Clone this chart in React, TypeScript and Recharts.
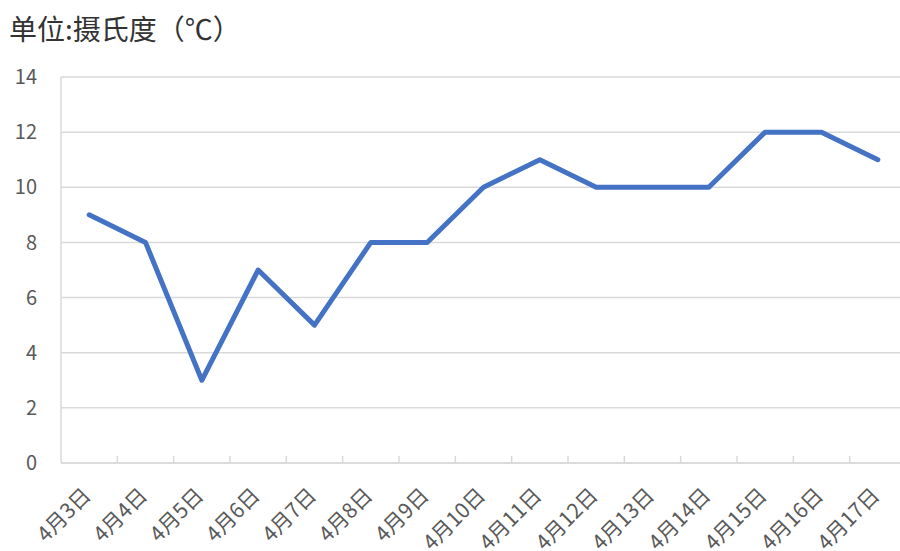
import React from "react"
import {
  LineChart,
  Line,
  XAxis,
  YAxis,
  CartesianGrid,
} from "recharts"

const dates = [
  "4月3日", "4月4日", "4月5日", "4月6日", "4月7日", "4月8日", "4月9日", "4月10日",
  "4月11日", "4月12日", "4月13日", "4月14日", "4月15日", "4月16日", "4月17日",
]
const temps = [9, 8, 3, 7, 5, 8, 8, 10, 11, 10, 10, 10, 12, 12, 11]
const yTicks = [0, 2, 4, 6, 8, 10, 12, 14]

const data = dates.map((d, i) => ({ date: d, temp: temps[i] }))

const grey = "#d9d9d9"
const labelColor = "#595959"
const fontFamily = "'Noto Sans CJK SC', 'Noto Sans', sans-serif"

// label rotated -45deg, plus the little tick mark on the band boundary to its left
function DateTick(props: any) {
  const { x, y, payload, index } = props
  const half = payload && payload.offset ? payload.offset : 0
  const tx = x + 3
  const ty = y + 34
  return (
    <g>
      {index > 0 && half > 0 && (
        <line x1={x - half} x2={x - half} y1={y} y2={y - 7} stroke={grey} strokeWidth={1.5} />
      )}
      <text
        x={tx}
        y={ty}
        textAnchor="end"
        fill={labelColor}
        fontSize={21}
        fontFamily={fontFamily}
        transform={`rotate(-45, ${tx}, ${ty})`}
      >
        {payload.value}
      </text>
    </g>
  )
}

export default function App() {
  return (
    <div
      style={{
        position: "absolute",
        left: 0,
        top: 0,
        width: 900,
        height: 551,
        overflow: "hidden",
        background: "#fff",
      }}
    >
      <div
        style={{
          position: "absolute",
          left: 9,
          top: 10,
          fontSize: 28,
          color: "#333",
          fontFamily,
          lineHeight: "36px",
          whiteSpace: "nowrap",
        }}
      >
        单位:摄氏度（℃）
      </div>
      <LineChart
        width={912}
        height={551}
        data={data}
        margin={{ top: 77, right: 6, bottom: 0, left: 0 }}
      >
        <CartesianGrid vertical={false} stroke={grey} strokeWidth={1.5} />
        <XAxis
          dataKey="date"
          scale="band"
          interval={0}
          height={88}
          tickLine={false}
          tickSize={0}
          tickMargin={0}
          axisLine={{ stroke: grey, strokeWidth: 1.5 }}
          tick={<DateTick />}
        />
        <YAxis
          domain={[0, 14]}
          ticks={yTicks}
          width={61}
          interval={0}
          tickLine={false}
          tickSize={0}
          tickMargin={24}
          axisLine={{ stroke: grey, strokeWidth: 1.5 }}
          tick={{ fill: labelColor, fontSize: 20, fontFamily }}
        />
        <Line
          dataKey="temp"
          stroke="#4472C4"
          strokeWidth={5}
          strokeLinejoin="round"
          strokeLinecap="round"
          dot={false}
          activeDot={false}
          isAnimationActive={false}
        />
      </LineChart>
    </div>
  )
}
